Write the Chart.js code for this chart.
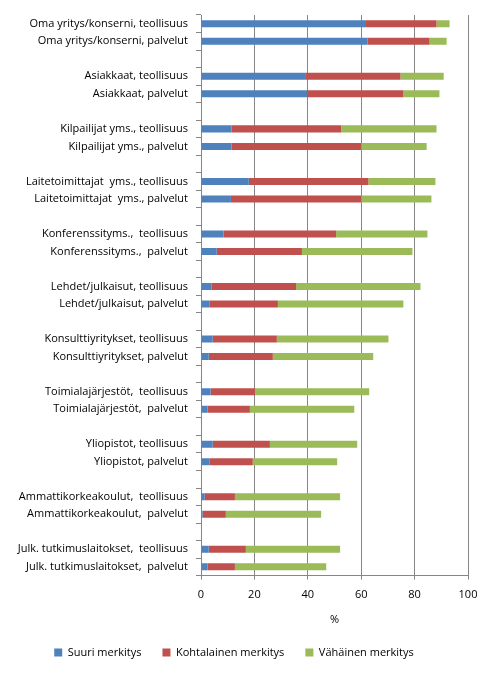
<!DOCTYPE html>
<html>
<head>
    <title>Merkitys</title>
    <script src="https://cdn.jsdelivr.net/npm/chart.js@4.4.0/dist/chart.umd.min.js"></script>
    <style>
        html, body {
            margin: 0;
            padding: 0;
            background: #ffffff;
        }
        .chart-box {
            width: 493px;
            height: 673px;
            position: relative;
        }
    </style>
</head>
<body>
    <div class="chart-box">
        <canvas id="chart"></canvas>
    </div>

    <script>
        // Groups of two rows each, a blank row goes between groups
        const groups = [
            ['Oma yritys/konserni, teollisuus', 'Oma yritys/konserni, palvelut'],
            ['Asiakkaat, teollisuus', 'Asiakkaat, palvelut'],
            ['Kilpailijat yms., teollisuus', 'Kilpailijat yms., palvelut'],
            ['Laitetoimittajat  yms., teollisuus', 'Laitetoimittajat  yms., palvelut'],
            ['Konferenssityms.,  teollisuus', 'Konferenssityms.,  palvelut'],
            ['Lehdet/julkaisut, teollisuus', 'Lehdet/julkaisut, palvelut'],
            ['Konsulttiyritykset, teollisuus', 'Konsulttiyritykset, palvelut'],
            ['Toimialajärjestöt,  teollisuus', 'Toimialajärjestöt,  palvelut'],
            ['Yliopistot, teollisuus', 'Yliopistot, palvelut'],
            ['Ammattikorkeakoulut,  teollisuus', 'Ammattikorkeakoulut,  palvelut'],
            ['Julk. tutkimuslaitokset,  teollisuus', 'Julk. tutkimuslaitokset,  palvelut']
        ];

        // Values in %, same order as the rows above
        const suuri = [61.8, 62.3, 39.3, 39.7, 11.4, 11.4, 17.9, 11.2, 8.4, 5.9, 3.9,
                       3.1, 4.4, 2.9, 3.6, 2.4, 4.4, 3.1, 1.4, 0.6, 2.9, 2.4];
        const kohtalainen = [26.4, 23.3, 35.4, 36.1, 41.1, 48.6, 44.8, 48.8, 42.2, 31.9, 31.7,
                             25.7, 24.0, 24.0, 16.6, 15.9, 21.4, 16.3, 11.3, 8.7, 13.9, 10.3];
        const vahainen = [4.9, 6.4, 16.2, 13.5, 35.7, 24.5, 25.1, 26.3, 34.2, 41.4, 46.6,
                          47.0, 41.8, 37.6, 42.8, 39.1, 32.7, 31.6, 39.4, 35.7, 35.3, 34.2];

        const seriesNames = ['Suuri merkitys', 'Kohtalainen merkitys', 'Vähäinen merkitys'];
        const xTicks = [0, 20, 40, 60, 80, 100];

        // put a blank slot between the groups
        const labels = [];
        groups.forEach((g, i) => {
            if (i > 0) labels.push('');
            labels.push(...g);
        });
        function withGaps(values) {
            const out = [];
            groups.forEach((g, i) => {
                if (i > 0) out.push(null);
                out.push(values[i * 2], values[i * 2 + 1]);
            });
            return out;
        }

        const font = { family: 'Open Sans', size: 11 };
        const gridColor = '#868686';

        new Chart(document.getElementById('chart'), {
            type: 'bar',
            data: {
                labels: labels,
                datasets: [
                    { label: seriesNames[0], data: withGaps(suuri), backgroundColor: '#4F81BD' },
                    { label: seriesNames[1], data: withGaps(kohtalainen), backgroundColor: '#C0504D' },
                    { label: seriesNames[2], data: withGaps(vahainen), backgroundColor: '#9BBB59' }
                ]
            },
            options: {
                indexAxis: 'y',
                responsive: true,
                maintainAspectRatio: false,
                animation: false,
                datasets: {
                    bar: { barPercentage: 0.4, categoryPercentage: 1 }
                },
                layout: {
                    padding: { top: 15, right: 25, left: 0, bottom: 5 }
                },
                scales: {
                    x: {
                        stacked: true,
                        min: 0,
                        max: 100,
                        afterBuildTicks: (scale) => {
                            scale.ticks = xTicks.map(v => ({ value: v }));
                        },
                        grid: {
                            color: gridColor,
                            tickLength: 4
                        },
                        border: { color: gridColor },
                        ticks: { color: '#000', font: font, padding: 9 },
                        title: {
                            display: true,
                            text: '%',
                            color: '#000',
                            font: font,
                            padding: { top: 2, bottom: 0 }
                        }
                    },
                    y: {
                        stacked: true,
                        afterFit: (scale) => { scale.width = 201; },
                        grid: {
                            drawOnChartArea: false,
                            color: gridColor,
                            tickLength: 5,
                            offset: true
                        },
                        border: { color: gridColor },
                        ticks: { color: '#000', font: font, padding: 8, autoSkip: false }
                    }
                },
                plugins: {
                    legend: {
                        position: 'bottom',
                        labels: {
                            color: '#000',
                            font: font,
                            boxWidth: 8,
                            boxHeight: 8,
                            padding: 21
                        }
                    },
                    tooltip: { enabled: false }
                }
            }
        });
    </script>
</body>
</html>
